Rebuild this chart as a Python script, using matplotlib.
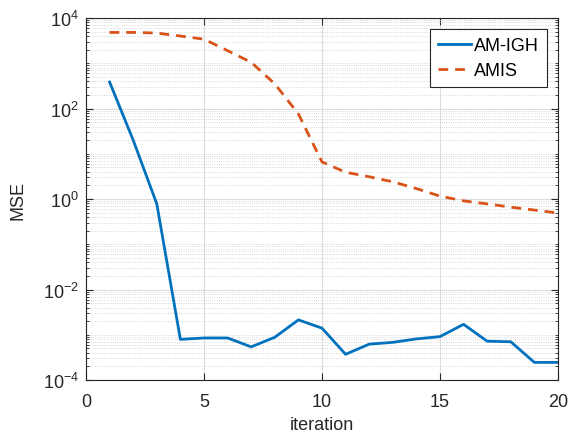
import matplotlib
matplotlib.use('Agg')
import matplotlib.pyplot as plt
from matplotlib.ticker import LogLocator, NullFormatter, FixedLocator

iterations = list(range(1, 21))
am_igh = [385, 20, 0.78, 7.9e-4, 8.5e-4, 8.5e-4, 5.4e-4, 8.8e-4, 2.13e-3, 1.4e-3,
          3.7e-4, 6.2e-4, 6.8e-4, 8.1e-4, 9.1e-4, 1.7e-3, 7.2e-4, 7.0e-4, 2.45e-4, 2.45e-4]
amis = [4800, 4800, 4650, 4000, 3400, 1900, 1050, 350, 76, 6.6,
        3.9, 3.1, 2.4, 1.7, 1.16, 0.91, 0.78, 0.66, 0.57, 0.49]

plt.rcParams['font.family'] = ['Liberation Sans', 'DejaVu Sans']

fig = plt.figure(figsize=(5.71, 4.39), dpi=100)
ax = fig.add_axes([0.1506, 0.1321, 0.8266, 0.8246])

ax.semilogy(iterations, am_igh, color='#0072BD', lw=2, label='AM-IGH')
ax.semilogy(iterations, amis, color='#D95319', lw=2, ls=(0, (3.5, 2.5)), label='AMIS')

ax.set_xlim(0, 20)
ax.set_ylim(1e-4, 1e4)
ax.set_xticks([0, 5, 10, 15, 20])
ax.yaxis.set_major_locator(FixedLocator([1e-4, 1e-2, 1e0, 1e2, 1e4]))
ax.yaxis.set_minor_locator(LogLocator(base=10, subs=range(1, 10), numticks=20))
ax.yaxis.set_minor_formatter(NullFormatter())

ax.grid(which='major', color='#dcdcdc', lw=0.8)
ax.grid(which='minor', axis='y', color='#cccccc', lw=0.6, ls=':')
ax.set_axisbelow(True)

ax.tick_params(which='both', direction='in', top=True, right=True, labelsize=13, colors='#262626')
ax.tick_params(which='major', length=5)
ax.tick_params(which='minor', length=2.5)
ax.tick_params(axis='x', which='major', pad=9)
ax.tick_params(axis='y', which='major', pad=5)
for s in ax.spines.values():
    s.set_color('#262626')
    s.set_linewidth(0.8)

ax.set_xlabel('iteration', fontsize=13, color='#262626', labelpad=5)
ax.set_ylabel('MSE', fontsize=13, color='#262626', labelpad=12)

leg = ax.legend(loc='upper right', fontsize=13, fancybox=False, framealpha=1,
                edgecolor='#262626', handlelength=1.8, handletextpad=0.2,
                borderpad=0.45, labelspacing=0.45, borderaxespad=0.6)
leg.get_frame().set_linewidth(0.8)

fig.savefig('out.png', dpi=100)
